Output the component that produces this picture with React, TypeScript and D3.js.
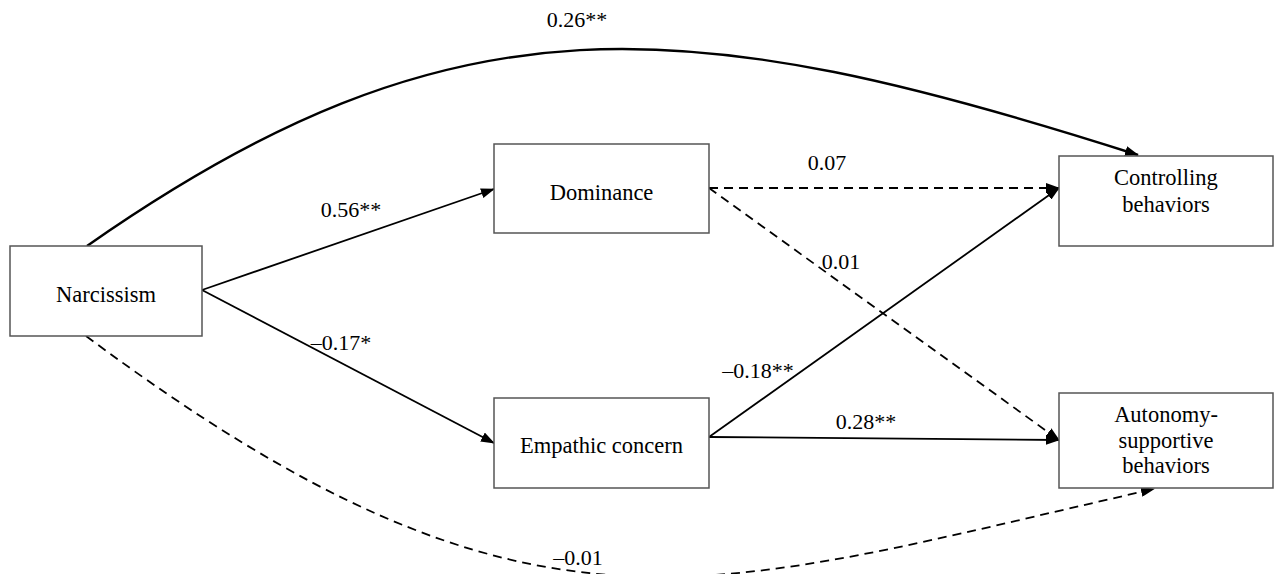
import * as d3 from "d3";

// Variables in the path model
const nodeIds = ["narc", "dom", "emp", "ctrl", "auto"];
const nodeLines = [
    ["Narcissism"],
    ["Dominance"],
    ["Empathic concern"],
    ["Controlling", "behaviors"],
    ["Autonomy-", "supportive", "behaviors"],
];

// Paths: from, to, standardized coefficient, significant?
const pathFrom = ["narc", "narc", "dom", "dom", "emp", "emp", "narc", "narc"];
const pathTo = ["dom", "emp", "ctrl", "auto", "ctrl", "auto", "ctrl", "auto"];
const pathCoef = ["0.56**", "\u20130.17*", "0.07", "0.01", "\u20130.18**", "0.28**", "0.26**", "\u20130.01"];
const pathSig = [true, true, false, false, true, true, true, false];

// ---- layout (pixels) ----
const W = 1274, H = 574;
const boxes: Record<string, { x0: number; y0: number; x1: number; y1: number; base: number; lh: number }> = {
    narc: {x0: 10, y0: 246, x1: 202, y1: 336, base: 302, lh: 0},
    dom: {x0: 494, y0: 144, x1: 709, y1: 233, base: 200, lh: 0},
    emp: {x0: 494, y0: 398, x1: 709, y1: 488, base: 453, lh: 0},
    ctrl: {x0: 1059, y0: 156, x1: 1273, y1: 246, base: 185, lh: 27},
    auto: {x0: 1059, y0: 393, x1: 1273, y1: 488, base: 422, lh: 25.5},
};

// geometry of each path: straight [start, end] or cubic [p0, c1, c2, p3]
const pathGeom: [number, number][][] = [
    [[202, 290], [494, 189]],
    [[202, 290], [494, 443]],
    [[709, 188], [1059, 188]],
    [[709, 188], [1059, 440]],
    [[709, 437], [1059, 188]],
    [[709, 437], [1059, 440]],
    [[87, 246], [453, -10], [685, 10], [1138, 155]],
    [[86, 336], [535, 670], [705, 590], [1154, 489]],
];
const labelPos: [number, number][] = [
    [351, 217], [341, 350], [827, 170], [841, 269],
    [758, 378], [866, 429], [577, 27], [578, 565],
];

const FONT = '"Liberation Serif", "Times New Roman", serif';

const line = d3.line<[number, number]>().x(d => d[0]).y(d => d[1]);

function edgePath(g: [number, number][]) {
    if (g.length === 4) {
        const p = d3.path();
        p.moveTo(g[0][0], g[0][1]);
        p.bezierCurveTo(g[1][0], g[1][1], g[2][0], g[2][1], g[3][0], g[3][1]);
        return p.toString();
    }
    return line(g) as string;
}

export default function App() {
    return (
        <svg width={W} height={H}
             style={{position: "absolute", left: 0, top: 0, display: "block", background: "#fff", fontFamily: FONT}}>
            <defs>
                <marker id="arrow" markerUnits="userSpaceOnUse" viewBox="0 0 14 10"
                        markerWidth={14} markerHeight={10} refX={13} refY={5} orient="auto">
                    <path d="M0,0 L14,5 L0,10 Z" fill="#000"/>
                </marker>
            </defs>

            {pathFrom.map((from, i) => (
                <path key={`e${i}`} className={`edge ${from}-${pathTo[i]}`}
                      d={edgePath(pathGeom[i])}
                      fill="none" stroke="#000"
                      strokeWidth={pathGeom[i].length === 4 && pathSig[i] ? 2.4 : 1.8}
                      strokeDasharray={pathSig[i] ? undefined : "9,6"}
                      markerEnd="url(#arrow)"/>
            ))}

            {nodeIds.map((id, i) => {
                const b = boxes[id];
                return (
                    <g key={id} className="node">
                        <rect x={b.x0} y={b.y0} width={b.x1 - b.x0} height={b.y1 - b.y0}
                              fill="#fff" stroke="#555" strokeWidth={1.5}/>
                        <text textAnchor="middle" fontFamily={FONT} fontSize={22.5} fill="#000">
                            {nodeLines[i].map((s, k) => (
                                <tspan key={k} x={(b.x0 + b.x1) / 2} y={b.base + k * b.lh}>{s}</tspan>
                            ))}
                        </text>
                    </g>
                );
            })}

            {pathCoef.map((c, i) => (
                <text key={`c${i}`} className="coef" x={labelPos[i][0]} y={labelPos[i][1]}
                      textAnchor="middle" fontFamily={FONT} fontSize={22} fill="#000">{c}</text>
            ))}
        </svg>
    );
}
